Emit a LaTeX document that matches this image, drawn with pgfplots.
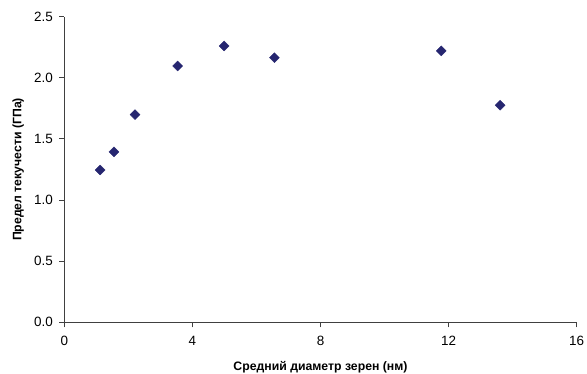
\documentclass[border=0pt]{standalone}
\usepackage{pgfplots}
\pgfplotsset{compat=1.18}
\usepackage{fontspec}
\setmainfont{Liberation Sans}
\definecolor{navy}{RGB}{38,38,112}
\begin{document}
\begin{tikzpicture}[x=1bp,y=1bp]
\begin{axis}[
  name=ax,
  scale only axis,
  width=512.4bp, height=305.6bp,
  xmin=0, xmax=16, ymin=0, ymax=2.5,
  xtick={0,4,8,12,16}, ytick={0,0.5,1,1.5,2,2.5},
  axis lines*=left,
  axis line style={black!75, line width=0.9pt},
  tick style={black!75, line width=0.9pt},
  tick align=outside, major tick length=5bp,
  /pgf/number format/assume math mode=true,
  yticklabel style={/pgf/number format/fixed, /pgf/number format/fixed zerofill, /pgf/number format/precision=1, font=\fontsize{13.5}{15}\selectfont, xshift=-3bp},
  xticklabel style={font=\fontsize{13.5}{15}\selectfont, anchor=center, yshift=-14bp},
  xlabel={\textbf{Средний диаметр зерен (нм)}},
  ylabel={\textbf{Предел текучести (ГПа)}},
  xlabel style={font=\fontsize{12.3}{14}\selectfont, at={(axis description cs:0.5,-0.147)}, anchor=center},
  ylabel style={font=\fontsize{12.3}{14}\selectfont, at={(axis description cs:-0.090,0.5)}, anchor=center},
  clip=false,
]
\addplot[only marks, mark=square*, mark size=3.5bp, color=navy, mark options={fill=navy, draw=navy, rotate=45}] coordinates {
  (1.12,1.246) (1.55,1.394) (2.21,1.699) (3.54,2.097) (4.99,2.261) (6.56,2.165) (11.77,2.22) (13.61,1.776)
};
\end{axis}
\pgfresetboundingbox
\path[use as bounding box] ([shift={(-64.3bp,-51.7bp)}]ax.south west) rectangle ([shift={(10.3bp,16.7bp)}]ax.north east);
\end{tikzpicture}
\end{document}
